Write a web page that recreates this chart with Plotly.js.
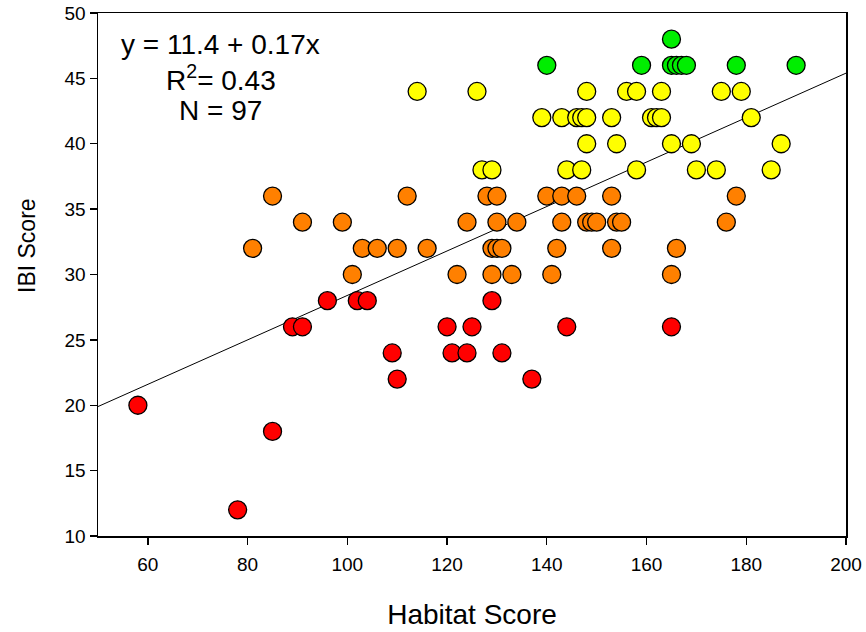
<!DOCTYPE html>
<html>
<head>
<meta charset="utf-8">
<script src="https://cdn.plot.ly/plotly-3.0.1.min.js"></script>
<style>html,body{margin:0;padding:0;background:#fff;}#chart{width:866px;height:632px;}</style>
</head>
<body>
<div id="chart"></div>
<script>
// Habitat score (x) and IBI score (y) by IBI class colour
const redX = [58, 78, 85, 89, 91, 96, 102, 104, 109, 110, 120, 121, 124, 125, 129, 131, 137, 144, 165];
const redY = [20, 12, 18, 26, 26, 28, 28, 28, 24, 22, 26, 24, 24, 26, 28, 24, 22, 26, 26];

const orangeX = [85, 112, 128, 130, 140, 143, 146, 153, 178,
                 91, 99, 124, 130, 134, 143, 148, 149, 150, 154, 155, 176,
                 81, 103, 106, 110, 116, 129, 130, 131, 142, 153, 166,
                 101, 122, 129, 133, 141, 165];
const orangeY = [36, 36, 36, 36, 36, 36, 36, 36, 36,
                 34, 34, 34, 34, 34, 34, 34, 34, 34, 34, 34, 34,
                 32, 32, 32, 32, 32, 32, 32, 32, 32, 32, 32,
                 30, 30, 30, 30, 30, 30];

const yellowX = [114, 126, 148, 156, 158, 163, 175, 179,
                 139, 143, 146, 147, 148, 153, 161, 162, 163, 181,
                 148, 154, 165, 169, 187,
                 127, 129, 144, 147, 158, 170, 174, 185];
const yellowY = [44, 44, 44, 44, 44, 44, 44, 44,
                 42, 42, 42, 42, 42, 42, 42, 42, 42, 42,
                 40, 40, 40, 40, 40,
                 38, 38, 38, 38, 38, 38, 38, 38];

const greenX = [140, 159, 165, 165, 166, 167, 168, 178, 190];
const greenY = [46, 46, 48, 46, 46, 46, 46, 46, 46];

// Regression fit
const intercept = 11.4;
const slope = 0.17;
const xRange = [50, 200];
const yRange = [10, 50];
const statLines = ["y = 11.4 + 0.17x", "R<sup>2</sup>= 0.43", "N = 97"];

const FONT = "Liberation Sans, Arial, sans-serif";

function pts(x, y, color, name) {
  return {
    type: "scatter", mode: "markers", x: x, y: y, name: name,
    marker: {size: 18, color: color, line: {color: "#000", width: 1.3}},
    hoverinfo: "x+y"
  };
}

const fitX = xRange.slice();
const fitY = fitX.map(v => intercept + slope * v);

const data = [
  {type: "scatter", mode: "lines", x: fitX, y: fitY, line: {color: "#000", width: 1}, hoverinfo: "skip", name: "fit"},
  pts(redX, redY, "#ff0000", "red"),
  pts(orangeX, orangeY, "#ff8000", "orange"),
  pts(yellowX, yellowY, "#ffff00", "yellow"),
  pts(greenX, greenY, "#00ee00", "green")
];

const L = 98, R = 846, T = 13, B = 536;
const W = 866, H = 632;
const px2x = px => (px - L) / (R - L);
const py2y = py => (B - py) / (B - T);

const annotations = [
  {text: statLines[0], x: px2x(220), y: py2y(44), xref: "paper", yref: "paper", showarrow: false, xanchor: "center", yanchor: "middle", font: {family: FONT, size: 28, color: "#000"}},
  {text: statLines[1], x: px2x(221), y: py2y(78), xref: "paper", yref: "paper", showarrow: false, xanchor: "center", yanchor: "middle", font: {family: FONT, size: 28, color: "#000"}},
  {text: statLines[2], x: px2x(220), y: py2y(110), xref: "paper", yref: "paper", showarrow: false, xanchor: "center", yanchor: "middle", font: {family: FONT, size: 28, color: "#000"}},
  {text: "IBI Score", x: px2x(27), y: py2y(246), xref: "paper", yref: "paper", showarrow: false, textangle: -90, xanchor: "center", yanchor: "middle", font: {family: FONT, size: 23, color: "#000"}}
];

const layout = {
  width: W, height: H,
  margin: {l: L, r: W - R, t: T, b: H - B},
  paper_bgcolor: "#fff", plot_bgcolor: "#fff",
  showlegend: false,
  font: {family: FONT, color: "#000"},
  xaxis: {
    range: xRange, tick0: 0, dtick: 20, ticks: "outside", ticklen: 7, tickwidth: 1.3, tickcolor: "#000",
    ticklabelstandoff: 4,
    showline: true, linecolor: "#000", linewidth: 1.5, mirror: true, showgrid: false, zeroline: false,
    tickfont: {family: FONT, size: 19, color: "#000"},
    title: {text: "Habitat Score", font: {family: FONT, size: 28, color: "#000"}, standoff: 30}
  },
  yaxis: {
    range: yRange, tick0: 0, dtick: 5, ticks: "outside", ticklen: 7, tickwidth: 1.3, tickcolor: "#000",
    showline: true, linecolor: "#000", linewidth: 1.5, mirror: true, showgrid: false, zeroline: false,
    tickfont: {family: FONT, size: 19, color: "#000"}
  },
  annotations: annotations
};

Plotly.newPlot("chart", data, layout, {displayModeBar: false, staticPlot: true});
</script>
</body>
</html>
